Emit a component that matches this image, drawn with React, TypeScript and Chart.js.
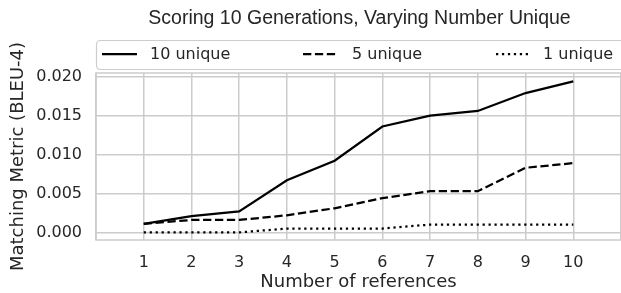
import React, { useEffect, useRef } from "react";
import { Chart, registerables } from "chart.js";

Chart.register(...registerables);

const TITLE = "Scoring 10 Generations, Varying Number Unique";
const X_TITLE = "Number of references";
const Y_TITLE = "Matching Metric (BLEU-4)";
const references = [1, 2, 3, 4, 5, 6, 7, 8, 9, 10];
const unique10 = [0.0011, 0.0021, 0.0027, 0.0067, 0.0092, 0.0136, 0.0150, 0.0156, 0.0179, 0.0194];
const unique5 = [0.0011, 0.0016, 0.0016, 0.0022, 0.0031, 0.0044, 0.0053, 0.0053, 0.0083, 0.0089];
const unique1 = [0.0000, 0.0000, 0.0000, 0.0005, 0.0005, 0.0005, 0.0010, 0.0010, 0.0010, 0.0010];
const seriesLabels = ["10 unique", "5 unique", "1 unique"];
const yTicks = [0, 0.005, 0.01, 0.015, 0.02];

const W = 621;
const H = 293;
const GRID = "#cccccc";
const TEXT = "#262626";
const FONT = "'DejaVu Sans', sans-serif";
const LW = 2.25;
const dashes: number[][] = [[], [8.3, 3.6], [2.25, 3.7]];

const decorPlugin = {
  id: "decor",
  beforeDatasetsDraw(chart: any) {
    const { ctx, chartArea: a } = chart;
    ctx.save();
    ctx.strokeStyle = GRID;
    ctx.lineWidth = 1.5;
    ctx.strokeRect(a.left, a.top, a.right - a.left, a.bottom - a.top);
    ctx.restore();
  },
  afterDraw(chart: any) {
    const { ctx, chartArea: a } = chart;
    ctx.save();
    // title
    ctx.fillStyle = TEXT;
    ctx.font = "19.5px 'Liberation Sans', Arial, sans-serif";
    ctx.textAlign = "center";
    ctx.textBaseline = "middle";
    ctx.fillText(TITLE, (a.left + a.right) / 2 + 1, 19);
    // legend box
    const bx = 96, by = 40, bw = 535, bh = 29;
    ctx.beginPath();
    ctx.roundRect(bx + 0.5, by + 0.5, bw, bh, 4);
    ctx.fillStyle = "rgba(255,255,255,0.8)";
    ctx.fill();
    ctx.strokeStyle = GRID;
    ctx.lineWidth = 1.2;
    ctx.stroke();
    const lineStarts = [102, 303, 496];
    const textStarts = [150, 352, 543];
    const ly = 54;
    ctx.font = "16px " + FONT;
    ctx.textAlign = "left";
    ctx.textBaseline = "middle";
    for (let i = 0; i < 3; i++) {
      ctx.beginPath();
      ctx.setLineDash(dashes[i]);
      ctx.strokeStyle = "#000";
      ctx.lineWidth = LW;
      ctx.moveTo(lineStarts[i], ly);
      ctx.lineTo(lineStarts[i] + 35, ly);
      ctx.stroke();
      ctx.setLineDash([]);
      ctx.fillStyle = TEXT;
      ctx.fillText(seriesLabels[i], textStarts[i], ly + 1);
    }
    ctx.restore();
  },
};

export default function App() {
  const ref = useRef<HTMLCanvasElement>(null);
  useEffect(() => {
    if (!ref.current) return;
    const mk = (label: string, data: number[], i: number) => ({
      label,
      data: references.map((x, j) => ({ x, y: data[j] })),
      borderColor: "#000",
      backgroundColor: "#000",
      borderWidth: LW,
      borderDash: dashes[i],
      pointRadius: 0,
      tension: 0,
      fill: false,
    });
    const chart = new Chart(ref.current, {
      type: "line",
      data: {
        datasets: [mk(seriesLabels[0], unique10, 0), mk(seriesLabels[1], unique5, 1), mk(seriesLabels[2], unique1, 2)],
      },
      options: {
        animation: false,
        responsive: false,
        devicePixelRatio: 1,
        layout: { padding: { top: 73, right: 0, left: 0, bottom: 0 } },
        plugins: { legend: { display: false }, title: { display: false }, tooltip: { enabled: false } },
        scales: {
          x: {
            type: "linear",
            min: 0,
            max: 11,
            afterFit: (s: any) => { s.height = 53; s.paddingLeft = 0; s.paddingRight = 0; },
            afterBuildTicks: (s: any) => { s.ticks = [0,1,2,3,4,5,6,7,8,9,10,11].map((v) => ({ value: v })); },
            ticks: {
              autoSkip: false,
              maxRotation: 0,
              padding: 13,
              color: TEXT,
              font: { family: FONT, size: 16 },
              callback: (v: any) => (v >= 1 && v <= 10 ? String(v) : ""),
            },
            grid: { color: GRID, lineWidth: 1.5, drawTicks: false },
            border: { display: false },
            title: { display: true, text: X_TITLE, color: TEXT, font: { family: FONT, size: 18 }, padding: { top: 0, bottom: 0 } },
          },
          y: {
            type: "linear",
            min: -0.000975,
            max: 0.020475,
            afterFit: (s: any) => { s.width = 96; s.paddingTop = 0; s.paddingBottom = 0; },
            afterBuildTicks: (s: any) => { s.ticks = yTicks.map((v) => ({ value: v })); },
            ticks: {
              padding: 14,
              color: TEXT,
              font: { family: FONT, size: 16 },
              callback: (v: any) => Number(v).toFixed(3),
            },
            grid: { color: GRID, lineWidth: 1.5, drawTicks: false },
            border: { display: false },
            title: { display: true, text: Y_TITLE, color: TEXT, font: { family: FONT, size: 18 }, padding: { top: 8, bottom: 0 } },
          },
        },
      },
      plugins: [decorPlugin],
    } as any);
    return () => chart.destroy();
  }, []);
  return (
    <div style={{ position: "absolute", left: 0, top: 0, width: W, height: H, background: "#fff" }}>
      <canvas ref={ref} width={W} height={H} style={{ display: "block", width: W, height: H }} />
    </div>
  );
}
